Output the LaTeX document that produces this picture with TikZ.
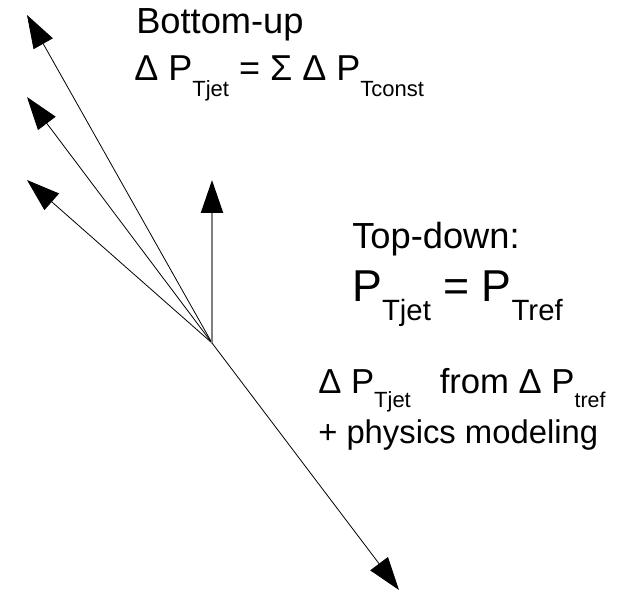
\documentclass[tikz,border=0pt]{standalone}
\usepackage{fontspec}
\setmainfont{Liberation Sans}
\usetikzlibrary{arrows.meta}
% lowered, smaller subscript: drop, size, text
\newcommand{\lowsub}[3]{\raisebox{-#1}{\fontsize{#2}{#2}\selectfont #3}}
\tikzset{
  vec/.style    = {-{Triangle[length=24.75pt, width=16.5pt, color=black]},
                   line width=0.6pt},
  refvec/.style = {vec, draw=black!50, line width=1.6pt},
  lbl/.style    = {anchor=base west, inner sep=0pt},
  hdtxt/.style  = {lbl, font=\fontsize{27.2}{32}\selectfont},
  eqtxt/.style  = {lbl, font=\fontsize{27}{31}\selectfont},
  bigeq/.style  = {lbl, font=\fontsize{33.5}{40}\selectfont},
}

\begin{document}
\begin{tikzpicture}[x=0.75pt, y=-0.75pt]
  \useasboundingbox (0,0) rectangle (624,591);
  % the vectors all start at one vertex
  \coordinate (vtx) at (212,343);
  \coordinate (c1) at (27,15);
  \coordinate (c2) at (27,97);
  \coordinate (c3) at (27,180);
  \coordinate (ref) at (212,180);
  \coordinate (jet) at (399,590);
  \draw[vec] (vtx) -- (c1);
  \draw[vec] (vtx) -- (c2);
  \draw[vec] (vtx) -- (c3);
  \draw[refvec] (vtx) -- (ref);
  \draw[vec] (vtx) -- (jet);
  % bottom-up
  \node[hdtxt] (bu) at (136,34) {Bottom-up};
  \node[eqtxt] (bueq) at (134,81)
    {Δ P\lowsub{12pt}{16.5}{Tjet} = Σ Δ P\lowsub{12pt}{16.5}{Tconst}};
  % top-down
  \node[hdtxt] (td) at (352,249) {Top-down:};
  \node[bigeq] (tdeq) at (352,302)
    {P\lowsub{14pt}{22}{Tjet} = P\lowsub{14pt}{22}{Tref}};
  \node[eqtxt, font=\fontsize{26}{31}\selectfont] (tderr) at (318,393)
    {Δ P\lowsub{11pt}{16.5}{Tjet}~~ from Δ P\lowsub{11pt}{16}{tref}};
  \node[eqtxt, font=\fontsize{24.6}{28}\selectfont] (phys) at (318,443)
    {+ physics modeling};
\end{tikzpicture}
\end{document}
